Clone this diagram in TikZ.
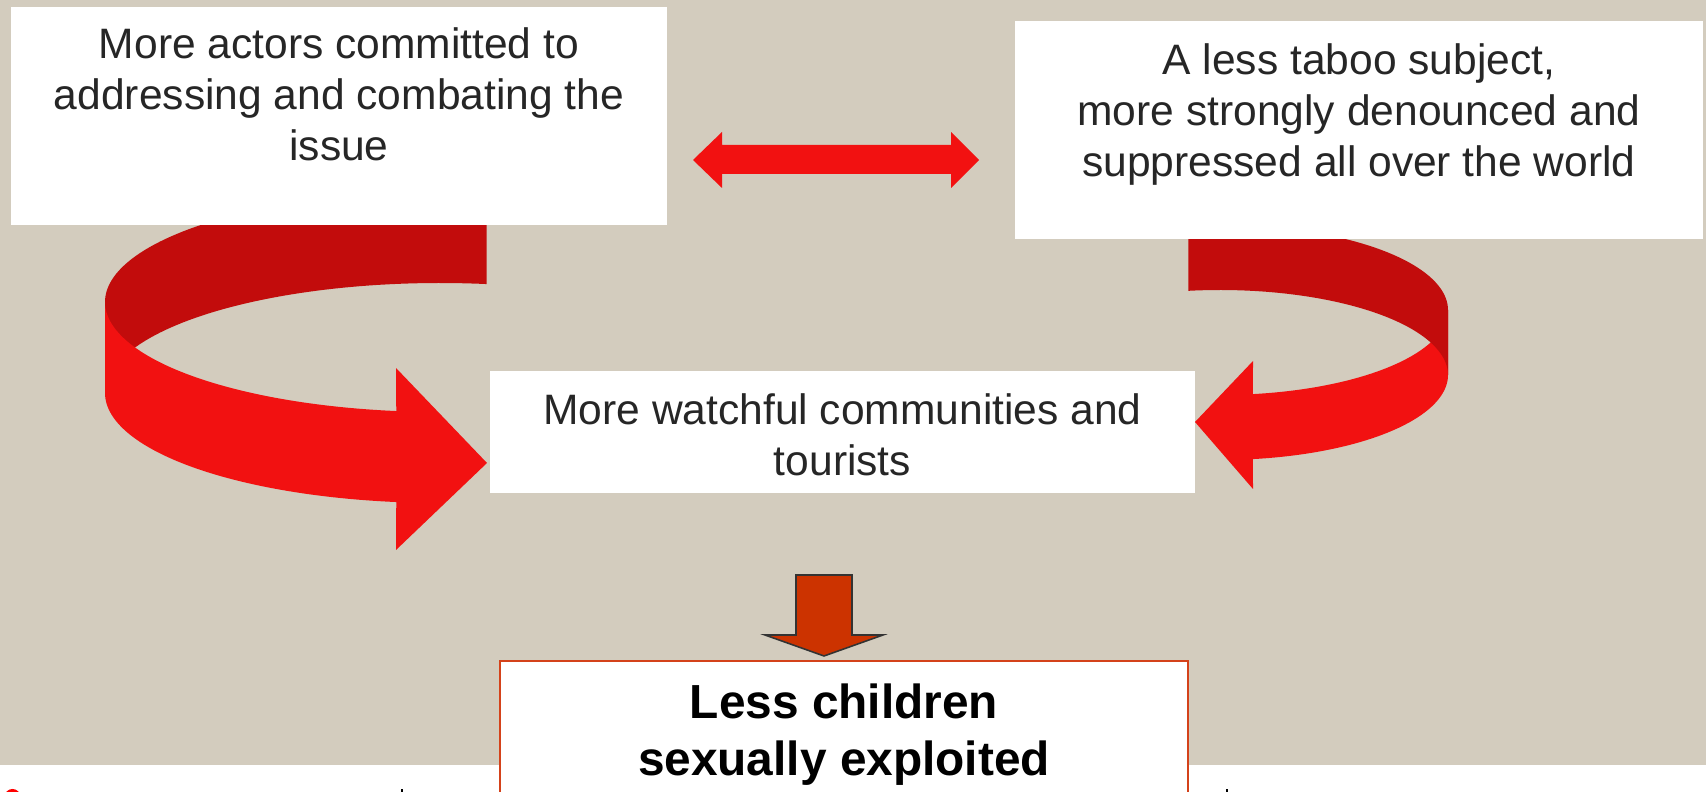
\documentclass[tikz,border=0pt]{standalone}
\usepackage{fontspec}
\setmainfont{Liberation Sans}
\definecolor{bg}{HTML}{D3CCBE}
\definecolor{redf}{HTML}{F21111}
\definecolor{redd}{HTML}{C20C0C}
\definecolor{downf}{HTML}{CC3300}
\definecolor{frame}{HTML}{D4421A}
\definecolor{txt}{HTML}{262626}
\tikzset{
  whitebox/.style={fill=white, draw=none, inner sep=0pt, anchor=center},
  boxtext/.style={inner sep=0pt, anchor=north, align=center, text=txt,
    font=\fontsize{12.1pt}{14.5pt}\selectfont},
  boldtext/.style={inner sep=0pt, anchor=north, align=center, text=black,
    font=\fontsize{13.6pt}{16.3pt}\selectfont\bfseries},
}
\begin{document}
\begin{tikzpicture}[x=0.01cm, y=-0.01cm]
\useasboundingbox (0,0) rectangle (1706,792);
\clip (0,0) rectangle (1706,792);
\fill[white] (0,0) rectangle (1706,792);
\fill[bg] (0,0) rectangle (1706,765);
% left curved arrow
\fill[redd] plot[domain=180:278, samples=60] ({440+335*cos(\x)}, {302+110*sin(\x)})
  -- plot[domain=278:180, samples=60] ({440+335*cos(\x)}, {393+110*sin(\x)}) -- cycle;
\fill[redf] plot[domain=180:97.5, samples=60] ({440+335*cos(\x)}, {302+110*sin(\x)})
  -- (396,368) -- (487,463) -- (396,550)
  -- plot[domain=97.5:180, samples=60] ({440+335*cos(\x)}, {393+110*sin(\x)}) -- cycle;
% right curved arrow
\fill[redf] plot[domain=0:81.7, samples=60] ({1220+228*cos(\x)}, {310+85*sin(\x)})
  -- (1253,361) -- (1195,422) -- (1253,489)
  -- plot[domain=81.7:0, samples=60] ({1220+228*cos(\x)}, {375+85*sin(\x)}) -- cycle;
\fill[redd] plot[domain=262:360, samples=60] ({1220+228*cos(\x)}, {310+85*sin(\x)})
  -- plot[domain=360:262, samples=60] ({1220+228*cos(\x)}, {375+85*sin(\x)}) -- cycle;
% boxes
\node[whitebox, minimum width=6.56cm, minimum height=2.18cm] (b1) at (339,116) {};
\node[whitebox, minimum width=6.88cm, minimum height=2.18cm] (b2) at (1359,130) {};
\node[whitebox, minimum width=7.05cm, minimum height=1.22cm] (b3) at (842.5,432) {};
\node[whitebox, draw=frame, line width=0.6pt, minimum width=6.88cm, minimum height=1.40cm] (b4) at (844,731) {};
% double arrow
\fill[redf] (693,160) -- (722,132) -- (722,145) -- (951,145) -- (951,132) -- (979,160)
  -- (951,188) -- (951,174) -- (722,174) -- (722,188) -- cycle;
% down arrow
\filldraw[fill=downf, draw=black!80, line width=0.45pt, line join=miter]
  (796,575) -- (852,575) -- (852,635) -- (883,635) -- (824,656) -- (765,635) -- (796,635) -- cycle;
% texts
\node[boxtext] (t1) at (339,26.5) {More actors committed to\\addressing and combating the\\issue};
\node[boxtext] (t2) at (1359,42.5) {A less taboo subject,\\more strongly denounced and\\suppressed all over the world};
\node[boxtext] (t3) at (842.5,393) {More watchful communities and\\tourists};
\node[boldtext] (t4) at (844,683) {Less children\\sexually exploited};
% cut-off footer marks
\fill[red] (12.5,797) circle[radius=0.08cm];
\fill[black] (401,789) rectangle (403,792);
\fill[black] (1226,789) rectangle (1228,792);
\end{tikzpicture}
\end{document}
